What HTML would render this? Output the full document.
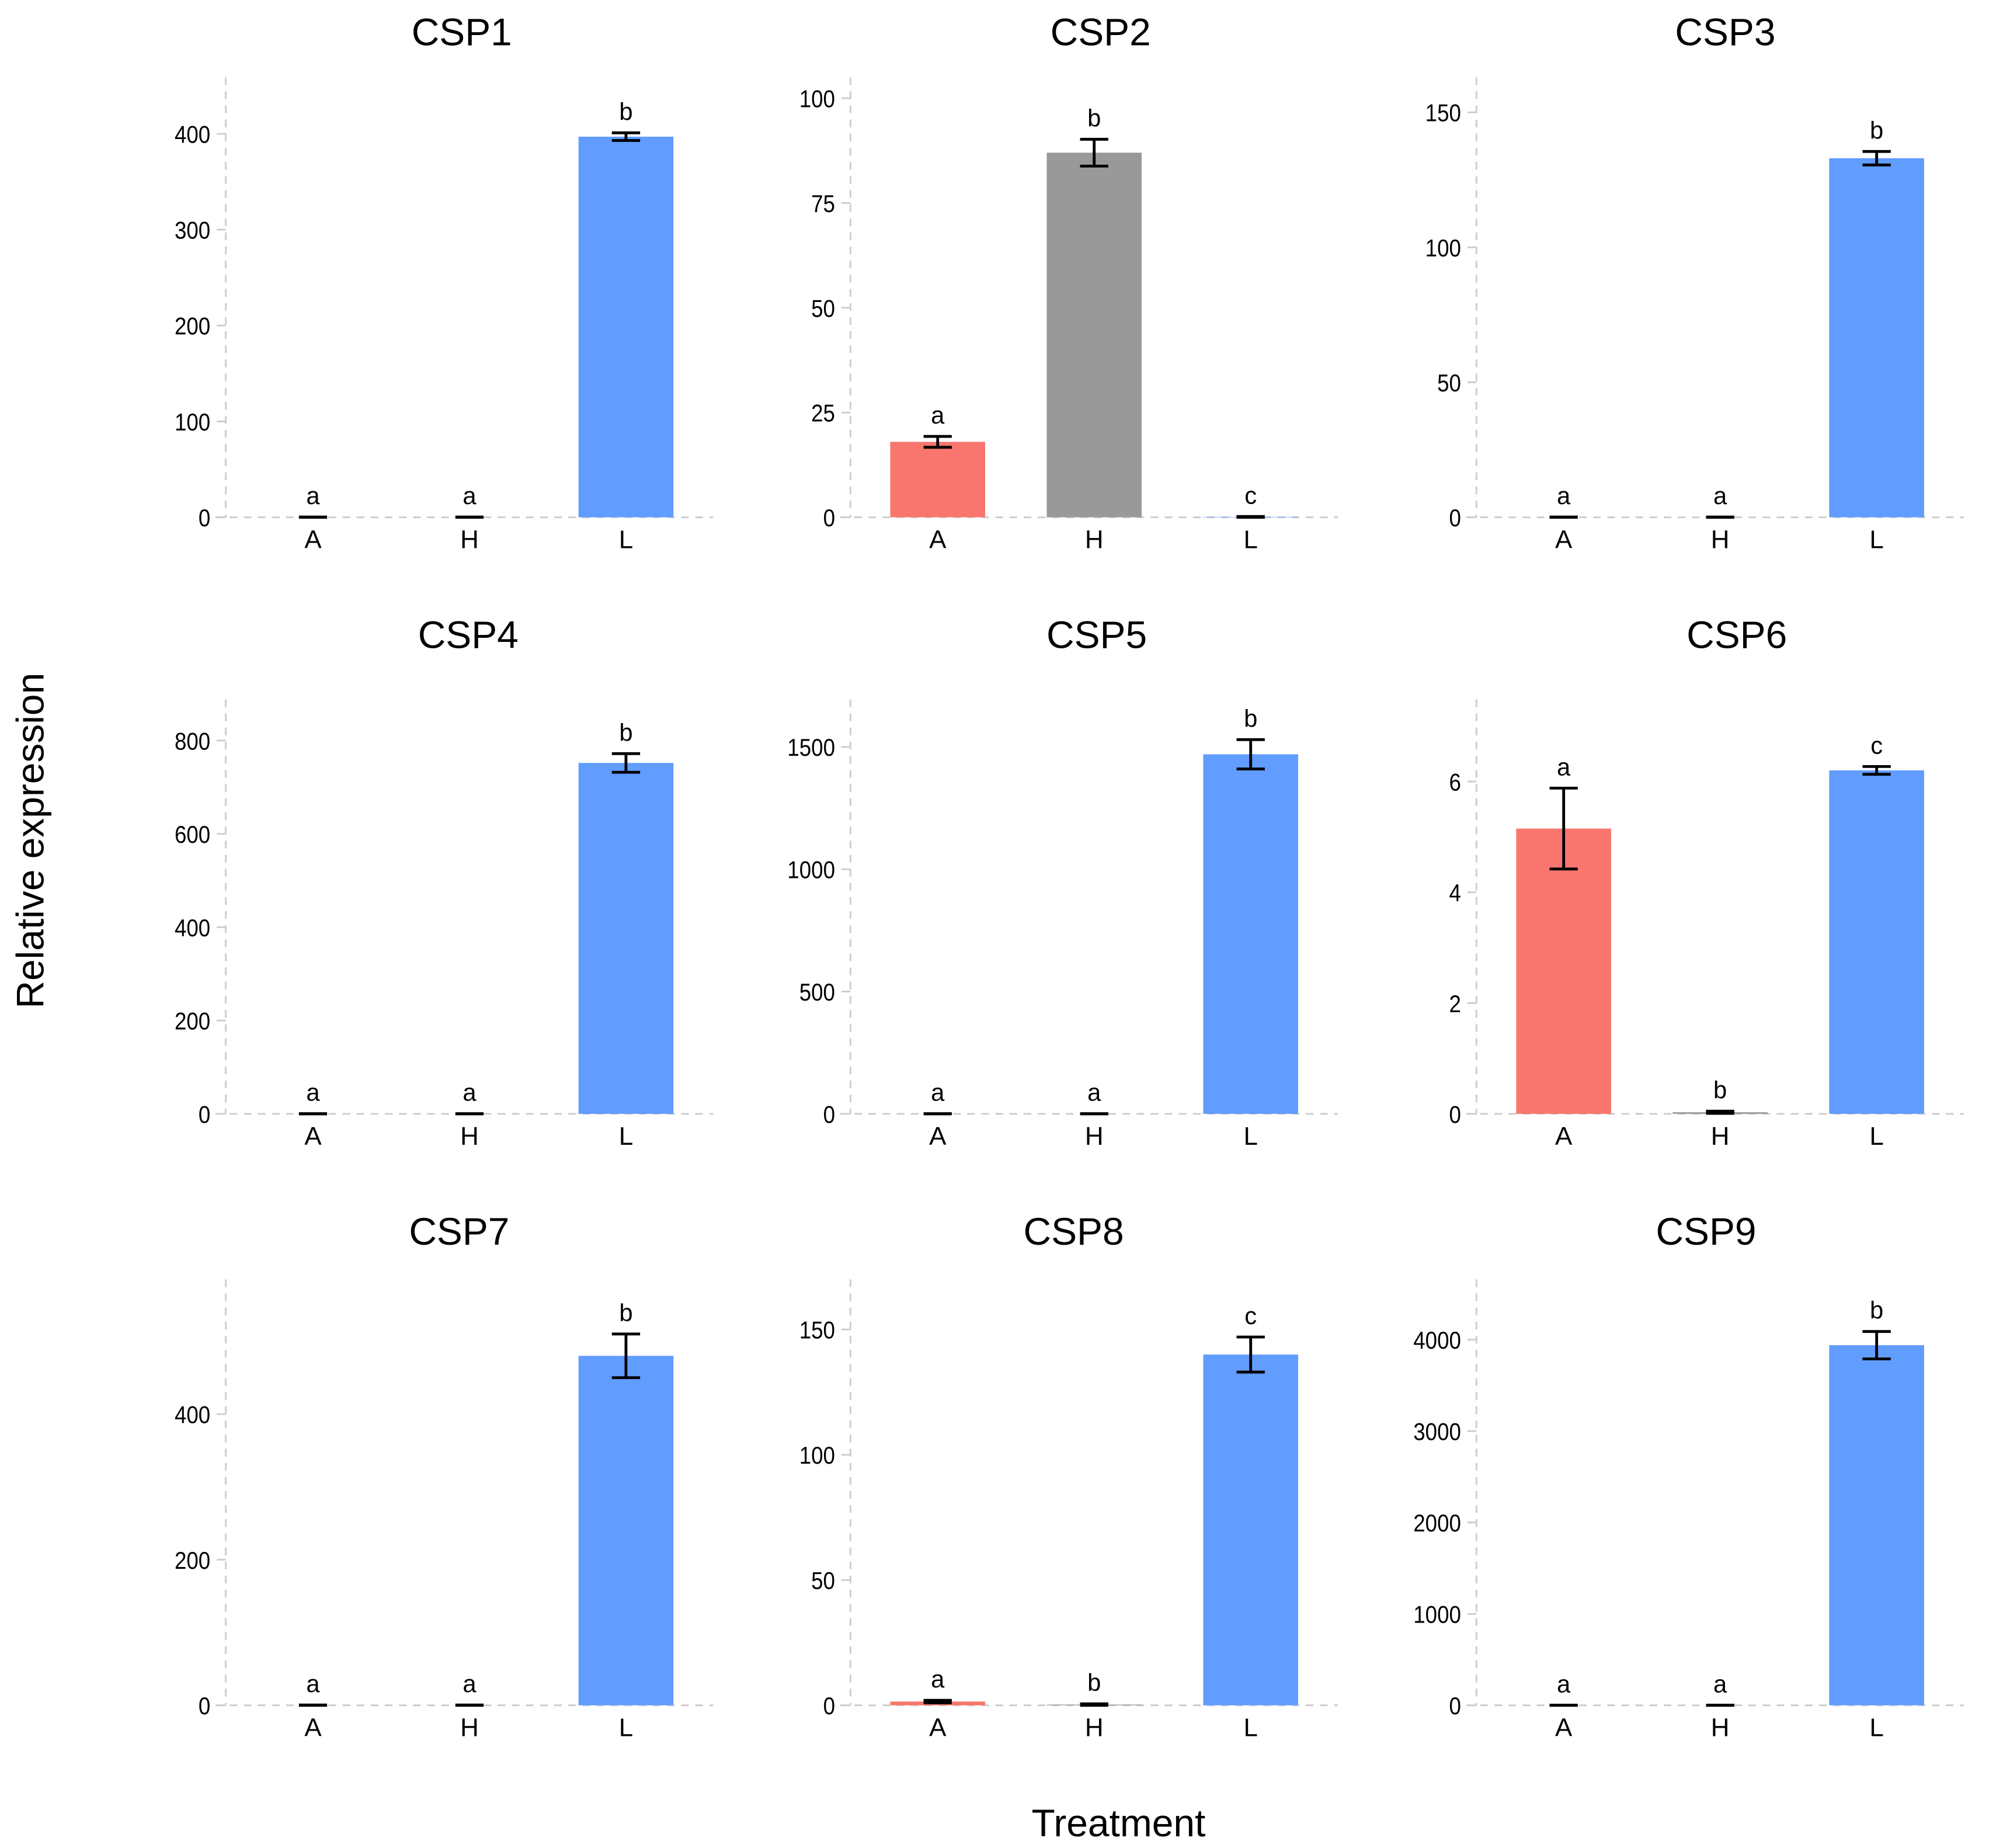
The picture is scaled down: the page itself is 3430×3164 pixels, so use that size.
<!DOCTYPE html>
<html><head><meta charset="utf-8"><style>
html,body{margin:0;padding:0;background:#fff}
svg{display:block}
text{font-family:"Liberation Sans",Arial,sans-serif;fill:#000}
</style></head><body>
<svg id="chart" width="3430" height="3164" viewBox="0 0 1561.5 1440" xmlns="http://www.w3.org/2000/svg">
<text x="0" y="0" transform="translate(34,655) rotate(-90)" text-anchor="middle" font-size="30">Relative expression</text>
<text x="872" y="1431" text-anchor="middle" font-size="30">Treatment</text>
</svg>
<script>
const genes = ["CSP1","CSP2","CSP3","CSP4","CSP5","CSP6","CSP7","CSP8","CSP9"];
const categories = ["A","H","L"];
const meansA = [0, 18, 0, 0, 0, 5.15, 0, 1.5, 0];
const meansH = [0, 87, 0, 0, 0, 0.03, 0, 0.3, 0];
const meansL = [397, 0.1, 133, 752, 1470, 6.2, 480, 140, 3940];
const errA = [0.3, 1.3, 0.1, 0.5, 1, 0.73, 0.5, 0.5, 2];
const errH = [0.3, 3.2, 0.1, 0.5, 1, 0.02, 0.5, 0.3, 2];
const errL = [4, 0.1, 2.5, 20, 60, 0.07, 30, 7, 150];
const lettersA = ["a","a","a","a","a","a","a","a","a"];
const lettersH = ["a","b","a","a","a","b","a","b","a"];
const lettersL = ["b","c","b","b","b","c","b","c","b"];
const yTicks = [[0,100,200,300,400],[0,25,50,75,100],[0,50,100,150],[0,200,400,600,800],[0,500,1000,1500],[0,2,4,6],[0,200,400],[0,50,100,150],[0,1000,2000,3000,4000]];
const yMaxes = [459, 105, 163, 888, 1694, 7.48, 585, 170, 4660];

// layout (viewBox units)
const colAxisX = [176, 663, 1151];
const rowZeroY = [403, 868, 1329];
const rowTopY = [60, 545, 997];
const titleX = [360, 858, 1345, 365, 855, 1354, 358, 837, 1330];
const titleY = [35, 505, 970];
const colors = ["#F8766D","#999999","#619CFF"];
const NS = "http://www.w3.org/2000/svg";
const svg = document.getElementById("chart");
function mk(tag, attrs, parent){const e=document.createElementNS(NS,tag);for(const k in attrs)e.setAttribute(k,attrs[k]);(parent||svg).appendChild(e);return e;}

genes.forEach((g, i) => {
  const r = Math.floor(i/3), c = i%3;
  const ax = colAxisX[c], y0 = rowZeroY[r], yTop = rowTopY[r];
  const yScale = v => y0 - (v / yMaxes[i]) * (y0 - yTop);
  const xScale = k => ax + 68 + k * 122;
  const grp = mk("g", {});
  
  
  const t = mk("text", {x: titleX[i], y: titleY[r], "text-anchor":"middle", "font-size":30}, grp);
  t.textContent = g;
  
  
  const yl = mk("line", {x1: ax, x2: ax, y1: yTop, y2: y0, stroke:"#ccc", "stroke-width":1.3, "stroke-dasharray":"6,5"}, grp);
  
  
  const xl = mk("line", {x1: ax-8, x2: ax+380, y1: y0, y2: y0, stroke:"#ccc", "stroke-width":1.3, "stroke-dasharray":"6,5"}, grp);
  
  
  yTicks[i].forEach(v => {
    const y = yScale(v);
    const tk = mk("line", {x1: ax-7, x2: ax, y1: y, y2: y, stroke:"#ccc", "stroke-width":1.3}, grp);
    
    
    const tl = mk("text", {x: ax-12, y: y+7, "text-anchor":"end", "font-size":19, transform:`translate(${ax-12},0) scale(0.88,1) translate(${-(ax-12)},0)`}, grp);
    tl.textContent = v;
    
    
  });
  const means = [meansA[i], meansH[i], meansL[i]];
  const errs = [errA[i], errH[i], errL[i]];
  const letters = [lettersA[i], lettersH[i], lettersL[i]];
  categories.forEach((cat, k) => {
    const cx = xScale(k);
    const yv = yScale(means[k]);
    const bar = mk("rect", {x: cx-37, y: yv, width: 74, height: Math.max(y0-yv, 0), fill: colors[k]}, grp);
    
    
    const yHi = yScale(means[k]+errs[k]), yLo = yScale(Math.max(means[k]-errs[k],0));
    const eb = mk("path", {d:`M${cx-11},${yHi}H${cx+11}M${cx},${yHi}V${yLo}M${cx-11},${yLo}H${cx+11}`, stroke:"#000", "stroke-width":2.2, fill:"none"}, grp);
    
    
    const lt = mk("text", {x: cx, y: yHi-10, "text-anchor":"middle", "font-size":19}, grp);
    lt.textContent = letters[k];
    
    
    const cl = mk("text", {x: cx, y: y0+24, "text-anchor":"middle", "font-size":20}, grp);
    cl.textContent = cat;
    
    
  });
});
</script>
</body></html>
